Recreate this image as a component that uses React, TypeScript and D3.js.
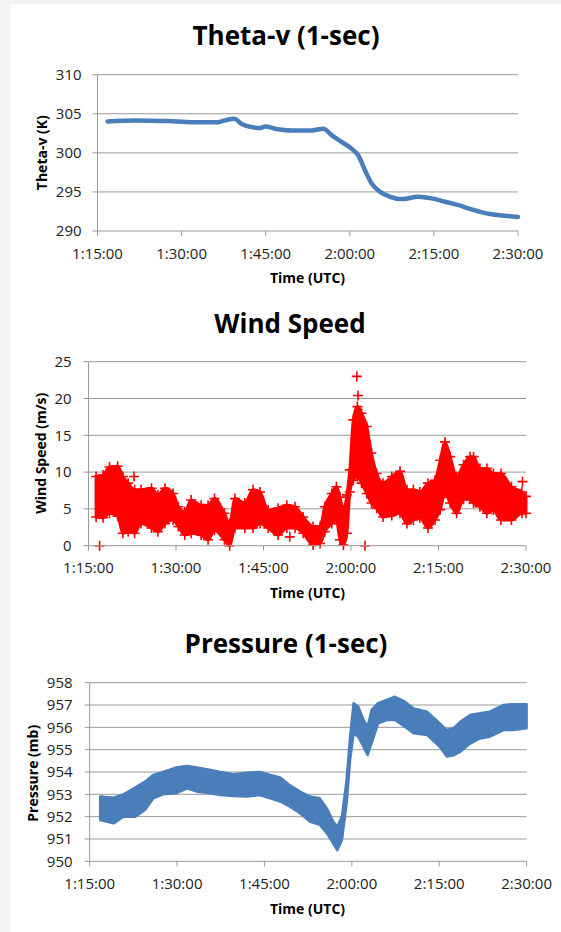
import React from "react";
import * as d3 from "d3";

// time axis: minutes after 1:15:00 UTC
const xTickMinutes = [0, 15, 30, 45, 60, 75];
const xTickLabels = ["1:15:00", "1:30:00", "1:45:00", "2:00:00", "2:15:00", "2:30:00"];

// Theta-v (K), 1-sec
const thetaTime = [1.8, 6.7, 12.6, 16.8, 21.5, 22.7, 24.4, 25.7, 27.5, 29.0, 29.9, 31.7, 34.6, 38.2, 40.3, 41.8, 43.6, 45.3, 46.5, 47.7, 48.9, 50.4, 51.9, 54.3, 57.2, 59.6, 62.0, 64.4, 66.7, 70.0, 72.6, 75.0];
const thetaValue = [304.02, 304.15, 304.06, 303.93, 303.93, 304.15, 304.36, 303.7, 303.3, 303.17, 303.38, 303.09, 302.87, 302.87, 303.09, 302.24, 301.38, 300.54, 299.69, 297.78, 296.08, 295.0, 294.47, 294.08, 294.38, 294.17, 293.74, 293.3, 292.77, 292.17, 291.95, 291.8];
const thetaTicks = [290, 295, 300, 305, 310];

// Wind speed (m/s): spread of the 1-sec scatter per time step
const windTime = [1.3, 2.5, 3.6, 5.0, 5.9, 6.8, 7.9, 9.0, 10.8, 11.9, 13.1, 14.5, 15.4, 16.5, 17.6, 19.3, 20.5, 21.6, 23.3, 24.2, 25.1, 26.8, 28.2, 29.4, 30.8, 32.5, 34.0, 35.4, 36.8, 38.5, 39.7, 40.5, 41.7, 42.5, 43.1, 43.7, 44.3, 44.8, 45.4, 46.1, 46.8, 47.7, 48.5, 49.4, 50.5, 52.0, 53.4, 54.6, 55.7, 56.8, 58.2, 59.4, 60.3, 61.1, 62.0, 63.1, 64.3, 65.4, 66.0, 67.1, 68.3, 69.4, 70.7, 72.5, 74.3, 75.0];
const windHigh = [9.4, 9.6, 10.7, 10.8, 9.4, 8.5, 7.6, 7.6, 7.8, 6.9, 7.8, 7.1, 5.3, 4.6, 6.2, 5.5, 5.5, 6.4, 4.4, 3.0, 6.4, 5.8, 7.6, 7.3, 4.85, 5.1, 5.5, 5.3, 3.9, 2.6, 2.6, 5.3, 7.1, 8.0, 6.6, 4.85, 6.9, 10.3, 17.1, 18.9, 18.0, 16.2, 12.6, 9.8, 8.5, 9.4, 10.1, 7.6, 7.6, 7.3, 8.5, 8.9, 11.6, 14.1, 12.1, 9.4, 11.0, 12.1, 12.1, 10.5, 10.5, 9.8, 9.8, 8.0, 7.3, 6.7];
const windLow = [3.9, 3.8, 4.4, 4.0, 1.7, 1.9, 1.7, 3.0, 2.4, 1.9, 3.0, 3.5, 2.6, 1.45, 1.7, 1.45, 0.8, 2.1, 0.8, 0, 2.4, 2.4, 2.4, 3.0, 2.4, 1.45, 2.4, 2.4, 1.7, 0.1, 0.3, 1.9, 3.0, 3.5, 0.8, 0.1, 1.7, 7.3, 8.9, 9.4, 8.5, 7.1, 5.8, 5.1, 3.9, 4.1, 4.4, 3.0, 3.5, 3.8, 2.4, 3.5, 4.9, 7.1, 5.8, 4.4, 6.3, 6.3, 5.8, 5.3, 4.4, 4.85, 3.5, 3.5, 4.4, 4.4];
const windOutlierTime = [1.9, 7.8, 34.5, 46.0, 46.2, 47.4, 74.4];
const windOutlierValue = [0, 9.4, 1.2, 23.0, 20.4, 0, 8.7];
const windTicks = [0, 5, 10, 15, 20, 25];

// Pressure (mb), 1-sec: noisy band, low / high edge
const pressTime = [1.8, 4.1, 5.8, 7.8, 9.5, 10.9, 12.6, 14.9, 16.7, 18.4, 20.1, 22.4, 24.7, 27.0, 29.2, 31.0, 32.7, 34.4, 36.1, 37.8, 39.5, 40.7, 41.8, 42.5, 43.3, 44.1, 44.7, 45.3, 46.1, 47.0, 47.7, 48.4, 49.5, 51.0, 52.4, 54.1, 55.6, 57.9, 60.1, 61.3, 62.5, 63.6, 65.3, 67.0, 68.7, 71.0, 72.7, 75.0];
const pressHigh = [952.9, 952.85, 953.0, 953.3, 953.57, 953.87, 954.0, 954.2, 954.27, 954.2, 954.12, 954.0, 953.9, 953.97, 954.0, 953.87, 953.75, 953.4, 953.12, 952.9, 952.82, 952.37, 951.78, 951.55, 952.0, 953.64, 955.58, 957.08, 956.93, 956.33, 956.03, 956.78, 957.08, 957.23, 957.37, 957.15, 956.85, 956.7, 956.18, 955.88, 955.96, 956.25, 956.55, 956.63, 956.7, 957.0, 957.04, 957.04];
const pressLow = [951.85, 951.7, 952.0, 952.0, 952.3, 952.82, 953.0, 953.05, 953.27, 953.12, 953.07, 952.97, 952.93, 952.9, 952.97, 952.82, 952.68, 952.45, 952.15, 951.78, 951.63, 951.26, 950.8, 950.5, 950.95, 952.6, 954.54, 955.73, 955.58, 955.13, 954.76, 955.29, 956.18, 956.33, 956.33, 956.03, 955.73, 955.66, 955.13, 954.69, 954.75, 954.9, 955.27, 955.5, 955.58, 955.88, 955.88, 955.96];
const pressTicks = [950, 951, 952, 953, 954, 955, 956, 957, 958];

const FONT = "'Open Sans', 'DejaVu Sans', sans-serif";
const BLUE = "#4a7ebb";
const RED = "#ff0000";
const GRID = "#9a9a9a";

type AxesProps = {
  xs: d3.ScaleLinear<number, number>;
  ys: d3.ScaleLinear<number, number>;
  ticks: number[];
  title: string;
  titleX: number;
  titleY: number;
  yTitle: string;
  yTitleX: number;
  yTitleY: number;
  tickRight: number;
  xLabelY: number;
  xTitleY: number;
  children?: React.ReactNode;
};

function Axes(p: AxesProps) {
  const [x0, x1] = p.xs.range();
  const y0 = p.ys(p.ticks[0]);
  const yTop = p.ys(p.ticks[p.ticks.length - 1]);
  return (
    <g fontFamily={FONT}>
      <text x={p.titleX} y={p.titleY} textAnchor="middle" fontSize={26} fontWeight="bold" fill="#000">
        {p.title}
      </text>
      {p.ticks.slice(1).map((t) => (
        <line key={t} x1={x0} x2={x1} y1={p.ys(t)} y2={p.ys(t)} stroke={GRID} strokeWidth={1} />
      ))}
      {p.children}
      <line x1={x0} x2={x0} y1={yTop} y2={y0} stroke={GRID} />
      <line x1={x0} x2={x1} y1={y0} y2={y0} stroke={GRID} />
      {p.ticks.map((t) => (
        <g key={t}>
          <line x1={x0 - 5} x2={x0} y1={p.ys(t)} y2={p.ys(t)} stroke={GRID} />
          <text x={p.tickRight} y={p.ys(t)} dy="0.35em" textAnchor="end" fontSize={15} fill="#222">
            {t}
          </text>
        </g>
      ))}
      {xTickMinutes.map((m, i) => (
        <g key={m}>
          <line x1={p.xs(m)} x2={p.xs(m)} y1={y0} y2={y0 + 5} stroke={GRID} />
          <text x={p.xs(m)} y={p.xLabelY} textAnchor="middle" fontSize={15} fill="#222">
            {xTickLabels[i]}
          </text>
        </g>
      ))}
      <text x={307.5} y={p.xTitleY} textAnchor="middle" fontSize={14} fontWeight="bold" fill="#000">
        Time (UTC)
      </text>
      <text
        transform={`translate(${p.yTitleX},${p.yTitleY}) rotate(-90)`}
        dy="0.35em"
        textAnchor="middle"
        fontSize={14}
        fontWeight="bold"
        fill="#000"
      >
        {p.yTitle}
      </text>
    </g>
  );
}

export default function App() {
  // Theta-v
  const tx = d3.scaleLinear().domain([0, 75]).range([97.5, 518]);
  const ty = d3.scaleLinear().domain([290, 310]).range([231, 74.7]);
  const thetaLine = d3
    .line<number>()
    .x((_, i) => tx(thetaTime[i]))
    .y((v) => ty(v))
    .curve(d3.curveMonotoneX)(thetaValue) as string;

  // Wind speed
  const wx = d3.scaleLinear().domain([0, 75]).range([88.5, 526]);
  const wy = d3.scaleLinear().domain([0, 25]).range([545.7, 361.7]);
  const windArea = d3
    .area<number>()
    .x((_, i) => wx(windTime[i]))
    .y0((_, i) => wy(windLow[i]))
    .y1((v) => wy(v))
    .curve(d3.curveMonotoneX)(windHigh) as string;
  const plus = (x: number, y: number) => `M${x - 5},${y}h10M${x},${y - 5}v10`;
  const windMarks =
    windTime
      .map((t, i) => plus(wx(t), wy(windHigh[i])) + plus(wx(t), wy(windLow[i])))
      .join("") + windOutlierTime.map((t, i) => plus(wx(t), wy(windOutlierValue[i]))).join("");

  // Pressure
  const px = d3.scaleLinear().domain([0, 75]).range([89.7, 526.6]);
  const py = d3.scaleLinear().domain([950, 958]).range([861.3, 682.7]);
  const pressArea = d3
    .area<number>()
    .x((_, i) => px(pressTime[i]))
    .y0((_, i) => py(pressLow[i]))
    .y1((v) => py(v))(pressHigh) as string;

  return (
    <svg width={561} height={932} style={{ position: "absolute", left: 0, top: 0 }}>
      <rect width={561} height={932} fill="#f3f3f3" />
      <rect x={11} y={4} width={550} height={928} fill="#fff" />

      <Axes
        xs={tx}
        ys={ty}
        ticks={thetaTicks}
        title="Theta-v (1-sec)"
        titleX={286}
        titleY={45}
        yTitle="Theta-v (K)"
        yTitleX={42}
        yTitleY={152.7}
        tickRight={81.6}
        xLabelY={259.3}
        xTitleY={283.3}
      >
        <path d={thetaLine} fill="none" stroke={BLUE} strokeWidth={4.5} strokeLinejoin="round" strokeLinecap="round" />
      </Axes>

      <Axes
        xs={wx}
        ys={wy}
        ticks={windTicks}
        title="Wind Speed"
        titleX={290}
        titleY={332.7}
        yTitle="Wind Speed (m/s)"
        yTitleX={41}
        yTitleY={453.3}
        tickRight={71.6}
        xLabelY={573.3}
        xTitleY={598.3}
      >
        <path d={windArea} fill={RED} stroke={RED} strokeWidth={3} strokeLinejoin="round" />
        <path d={windMarks} fill="none" stroke={RED} strokeWidth={1.6} />
      </Axes>

      <Axes
        xs={px}
        ys={py}
        ticks={pressTicks}
        title="Pressure (1-sec)"
        titleX={286}
        titleY={653.3}
        yTitle="Pressure (mb)"
        yTitleX={33.3}
        yTitleY={773.3}
        tickRight={72.6}
        xLabelY={889.3}
        xTitleY={914}
      >
        <path d={pressArea} fill={BLUE} stroke={BLUE} strokeWidth={2.5} strokeLinejoin="round" />
      </Axes>
    </svg>
  );
}
